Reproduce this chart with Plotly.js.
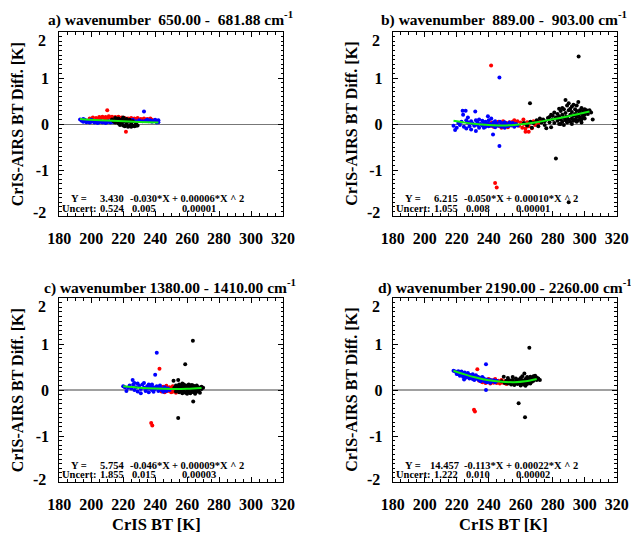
<!DOCTYPE html>
<html>
<head>
<meta charset="utf-8">
<script src="https://cdn.plot.ly/plotly-3.0.1.min.js"></script>
<style>html,body{margin:0;padding:0;background:#fff;}#chart{width:631px;height:536px;}</style>
</head>
<body>
<div id="chart"></div>
<script>
// ---------- data ----------
var panelTitles = [
  "a) wavenumber  650.00 -  681.88 cm<sup>-1</sup>",
  "b) wavenumber  889.00 -  903.00 cm<sup>-1</sup>",
  "c) wavenumber 1380.00 - 1410.00 cm<sup>-1</sup>",
  "d) wavenumber 2190.00 - 2260.00 cm<sup>-1</sup>"
];
var xTickVals = [180,200,220,240,260,280,300,320];
var yTickVals = [-2,-1,0,1,2];
var yTickText = ["","-1","0","1",""];
var yEndLabels = ["-2","2"];

var fitCoef = [
  ["3.430","-0.030*X","+ 0.00006*X ^ 2"],
  ["6.215","-0.050*X","+ 0.00010*X ^ 2"],
  ["5.754","-0.046*X","+ 0.00009*X ^ 2"],
  ["14.457","-0.113*X","+ 0.00022*X ^ 2"]
];
var fitUncert = [
  ["0.524","0.005","0.00001"],
  ["1.055","0.008","0.00001"],
  ["1.855","0.015","0.00003"],
  ["1.222","0.010","0.00002"]
];

// panel a
var aRed = [[199,0.12],[201,0.14],[203,0.13],[204,0.11],[205,0.15],[206,0.12],[207,0.16],[208,0.13],[209,0.15],[210,0.30],[210,0.12],[211,0.17],[212,0.14],[213,0.16],[214,0.12],[215,0.15],[216,0.13],[217,0.16],[218,0.12],[219,0.14],[220,0.11],[221,0.13],[221.7,-0.17],[222,0.10],[223,0.12],[224,0.10],[225,0.13],[226,0.09],[227,0.12],[228,0.10],[229,0.13],[230,0.09],[231,0.11],[232,0.10],[233,0.12],[234,0.09],[235,0.11],[236,0.10],[237,0.12],[238,0.09],[205,0.10],[209,0.11],[213,0.10]];
var aBlue = [[193,0.10],[194,0.07],[195,0.05],[196,0.09],[197,0.04],[198,0.06],[199,0.03],[200,0.05],[201,0.07],[202,0.03],[203,0.05],[204,0.02],[205,0.04],[206,0.06],[207,0.03],[208,0.05],[209,0.02],[210,0.04],[211,0.06],[212,0.03],[213,0.07],[214,0.04],[215,0.06],[216,0.08],[217,0.05],[218,0.07],[220,0.05],[222,0.08],[224,0.06],[226,0.09],[228,0.06],[230,0.08],[232,0.06],[233,0.27],[234,0.07],[235,0.09],[236,0.06],[237,0.08],[238,0.05],[239,0.07],[240,0.09],[241,0.03],[241,0.06],[242,0.04],[242,0.08],[195,0.11],[200,0.09]];
var aBlack = [[213,0.10],[214,0.06],[215,0.13],[215,0.03],[216,0.08],[217,0.12],[217,0.01],[218,0.06],[218,-0.02],[219,0.10],[219,0.03],[220,0.14],[220,-0.03],[221,0.07],[221,-0.05],[222,0.11],[222,0.0],[223,0.05],[223,-0.06],[224,0.09],[224,-0.04],[225,0.02],[225,-0.06],[226,0.06],[226,-0.03],[227,-0.05],[228,0.01],[228,-0.04],[229,-0.03],[220,0.05],[222,0.07]];
var aFitX = [193,199,210,220,230,242];
var aFitY = [0.11,0.095,0.075,0.058,0.045,0.035];

// panel b
var bRed = [[240,0.0],[241,-0.04],[241.5,1.27],[242,0.03],[243,-0.06],[244,0.02],[244,-1.28],[245,-1.38],[245,-0.03],[246,0.05],[247,-0.05],[248,0.01],[249,0.06],[250,-0.04],[251,0.02],[252,-0.07],[253,0.04],[254,-0.02],[255,0.05],[256,-0.05],[257,0.01],[258,0.06],[259,-0.04],[260,0.03],[261,-0.08],[261.7,0.1],[262,0.0],[263,-0.17],[264,0.04],[265,-0.17],[265,-0.05],[266,0.03],[267,-0.09],[268,0.06],[269,-0.02],[270,0.05],[271,0.0],[272,0.07],[263,-0.1],[256,0.08],[248,-0.08]];
var bBlue = [[218,-0.04],[219,-0.13],[220,-0.08],[221,0.02],[222,-0.02],[223,0.05],[223.7,0.29],[224,0.2],[224.5,-0.06],[225.6,0.29],[226,0.08],[226,-0.1],[227,0.03],[228,-0.05],[229,0.06],[229,-0.12],[230,0.01],[231,-0.04],[231.6,0.27],[232,0.08],[232,-0.15],[233,0.04],[234,-0.08],[234,0.1],[235,0.0],[236,-0.03],[236,0.07],[237,0.03],[238,-0.06],[238,0.05],[239,0.01],[239.5,0.17],[240,-0.05],[240,0.08],[241,0.0],[241.6,0.12],[242,-0.04],[242.7,-0.23],[243,0.03],[244,-0.07],[244,0.06],[245,0.01],[246,-0.04],[246.7,1.01],[246.7,-0.48],[247,0.05],[248,-0.06],[248,0.02],[249,-0.02],[250,0.04],[250,-0.08],[251,0.0],[252,-0.05],[253,0.03],[254,-0.03],[255,0.02],[256,-0.06],[257,0.0],[258,-0.03],[227,0.14],[233,-0.02],[237,-0.08]];
var bBlack = [[262,0.02],[264,-0.03],[265.8,0.45],[266,0.05],[267,-0.08],[268,0.02],[270,0.08],[271,-0.05],[272,0.12],[273,0.03],[274,0.1],[275,0.06],[276,-0.09],[277,0.13],[278,0.04],[279,-0.07],[280,0.1],[280,0.18],[281,0.02],[282,-0.75],[282,0.14],[283,0.07],[283,0.22],[284,0.0],[284,0.17],[285,0.1],[285,0.28],[286,0.05],[286,0.2],[287,0.13],[287,0.32],[288,0.08],[288,0.52],[288,0.24],[289,0.15],[289,0.03],[290,0.3],[290,0.1],[290,0.45],[290,-1.7],[291,0.2],[291,0.05],[292,0.26],[292,0.12],[292,0.38],[293,0.18],[293,0.07],[294,0.32],[294,0.22],[294,0.1],[295,0.28],[295,0.15],[295,0.4],[296,0.48],[296,0.2],[296,0.08],[296.2,1.47],[297,0.3],[297,0.14],[297,0.25],[298,0.22],[298,0.35],[298,0.1],[299,0.28],[299,0.17],[300,0.32],[300,0.2],[300,0.12],[301,0.26],[301,0.3],[302,0.22],[302,0.28],[303,0.3],[304,0.25],[305,0.1],[286,0.35],[289,0.4],[291,0.33],[293,0.42],[287,-0.02],[284,0.33],[281,0.25],[278,0.15],[275,-0.02],[279,0.2],[283,0.12],[285,0.0],[288,0.15],[292,0.0],[295,0.05],[298,0.03]];
var bFitX = [218,225,232,240,248,256,262,270,278,286,294,303];
var bFitY = [0.07,0.03,0.0,-0.02,-0.03,-0.02,0.0,0.04,0.09,0.14,0.2,0.27];

// panel c
var cRed = [[238,0.02],[237.5,-0.72],[238.2,-0.77],[242.7,0.46],[243,0.05],[244,-0.03],[245,0.07],[246,-0.05],[247,0.04],[247,0.09],[248,-0.02],[249,0.06],[250,-0.05],[250,0.02],[251,0.08],[251,-0.04],[252,0.0],[252,0.05],[253,-0.06],[253,0.03]];
var cBlue = [[220,0.08],[221,0.06],[222,-0.02],[223,0.05],[224,0.1],[225,0.03],[225.9,0.22],[226.3,0.12],[227,0.0],[227,0.15],[228,0.06],[229,-0.03],[230,0.09],[231,0.02],[231,-0.07],[232,0.12],[233,0.05],[233,0.15],[234,-0.02],[235,0.08],[235,0.03],[236,-0.05],[237,0.1],[237,0.04],[238,0.0],[238,0.12],[239,0.06],[239,-0.04],[240,0.33],[240,0.02],[241,0.81],[241,0.08],[242,-0.02],[242,0.05],[243,0.1],[244,0.0],[244,0.04],[245,-0.04],[246,0.06],[246,0.01],[247,-0.02],[248,0.03],[249,0.0],[229,0.14],[236,0.12]];
var cBlack = [[251.5,0.2],[252,0.05],[253,0.1],[253,-0.03],[254,0.08],[254,0.0],[254.4,0.22],[254.4,-0.61],[255,0.12],[255,0.04],[255,-0.05],[256,0.09],[256,-0.02],[256,0.06],[257,0.11],[257,0.02],[257,-0.07],[258,0.07],[258,-0.03],[258,0.12],[258.8,0.56],[259,0.04],[259,0.09],[259,-0.06],[260,0.1],[260,0.0],[260,0.06],[261,-0.04],[261,0.08],[261,0.12],[262,0.03],[262,-0.07],[262,0.1],[263,0.06],[263,-0.02],[263,0.11],[263.6,1.07],[263.8,-0.25],[264,0.04],[264,-0.05],[264,0.09],[265,0.07],[265,0.0],[265,-0.08],[266,0.1],[266,0.03],[266,-0.04],[267,0.06],[267,-0.01],[268,0.04],[268,-0.06],[269,0.02],[269,0.07],[270,0.05],[257,0.14],[260,-0.08]];
var cFitX = [220,230,240,250,260,269];
var cFitY = [0.08,0.05,0.03,0.02,0.025,0.045];

// panel d
var dRed = [[230.8,-0.43],[231.4,-0.47],[232.9,0.45],[234,0.2],[236,0.17],[237,0.22],[238,0.15],[239,0.2],[240,0.24],[241,0.14],[242,0.21],[243,0.16],[244,0.24],[245,0.15],[246,0.2],[247,0.14],[248,0.22],[249,0.16],[250,0.19],[251,0.13],[252,0.2],[253,0.15],[254,0.18],[255,0.14]];
var dBlue = [[218,0.42],[219,0.4],[220,0.38],[220,0.35],[221,0.41],[221,0.34],[222,0.37],[222,0.31],[223,0.4],[223,0.33],[224,0.36],[224,0.29],[224.6,0.23],[225,0.38],[225,0.31],[226,0.34],[226,0.27],[227,0.37],[227,0.3],[228,0.33],[228,0.25],[229,0.31],[229,0.28],[230,0.34],[230,0.24],[231,0.29],[231,0.22],[232,0.32],[232,0.26],[233,0.24],[233,0.29],[234,0.21],[234,0.27],[235,0.25],[235,0.19],[236,0.23],[236,0.28],[237,0.2],[237,0.25],[238,0.18],[238.3,0.56],[238.3,0.0],[239,0.23],[239,0.17],[240,0.2],[241,0.22],[241,0.16],[242,0.19],[243,0.21],[244,0.17],[245,0.2]];
var dBlack = [[248,0.19],[249.4,0.29],[250,0.15],[251,0.2],[252,0.14],[253,0.21],[254,0.12],[254,0.18],[255,0.22],[256,0.15],[256,0.11],[257,0.19],[257,0.25],[258,0.13],[258,0.2],[258.7,-0.29],[259,0.16],[259,0.23],[260,0.1],[260,0.18],[260,0.26],[261,0.14],[261,0.21],[262,0.12],[262,0.19],[262.3,0.36],[262.7,-0.59],[263,0.16],[263,0.24],[263,0.09],[264,0.2],[264,0.28],[264,0.13],[265,0.17],[265,0.25],[265.4,0.92],[266,0.21],[266,0.29],[266,0.14],[267,0.23],[267,0.18],[268,0.26],[268,0.3],[268,0.2],[269,0.24],[269,0.31],[270,0.22],[270,0.27],[271,0.25],[272,0.22],[252,0.26],[255,0.28],[261,0.3]];
var dFitX = [218,225,232,240,248,256,263,270];
var dFitY = [0.42,0.34,0.27,0.21,0.18,0.17,0.19,0.24];

// ---------- build ----------
var W = 631, H = 536;
var FONT = "Liberation Serif";
var panels = [
  {red:aRed, blue:aBlue, black:aBlack, fx:aFitX, fy:aFitY, left:59.3, right:283, top:32, bottom:216, zc:'#777777', zw:1},
  {red:bRed, blue:bBlue, black:bBlack, fx:bFitX, fy:bFitY, left:392.7, right:616.7, top:32, bottom:216, zc:'#777777', zw:1},
  {red:cRed, blue:cBlue, black:cBlack, fx:cFitX, fy:cFitY, left:59.3, right:283, top:298, bottom:482, zc:'#a0a0a0', zw:1.5},
  {red:dRed, blue:dBlue, black:dBlack, fx:dFitX, fy:dFitY, left:392.7, right:616.7, top:298, bottom:482, zc:'#a0a0a0', zw:1.5}
];
var titleCenters = [[170,19],[504,19],[170,286],[505,286]];

function px(x){return x/W;}
function py(y){return 1 - y/H;}

var traces = [];
var layout = {
  width: W, height: H,
  margin: {l:0, r:0, t:0, b:0},
  paper_bgcolor: '#ffffff', plot_bgcolor: '#ffffff',
  showlegend: false,
  annotations: [],
  font: {family: FONT, color: '#000'}
};

function scat(pts, color, xa, ya){
  return {type:'scatter', mode:'markers', x: pts.map(function(p){return p[0];}), y: pts.map(function(p){return p[1];}),
    xaxis: xa, yaxis: ya, marker:{color:color, size:4, line:{width:0}}, hoverinfo:'skip'};
}
function ann(text, x, y, size, xanchor, extra){
  var a = {text:'<b>'+text+'</b>', x:px(x), y:py(y), xref:'paper', yref:'paper', showarrow:false,
    xanchor:xanchor||'center', yanchor:'middle', font:{family:FONT, size:size, color:'#000'}};
  if (extra) for (var k in extra) a[k]=extra[k];
  layout.annotations.push(a);
}

panels.forEach(function(p, i){
  var n = i+1;
  var xa = 'x'+(n===1?'':n), ya = 'y'+(n===1?'':n);
  var xk = 'xaxis'+(n===1?'':n), yk = 'yaxis'+(n===1?'':n);
  traces.push(scat(p.red, '#ff0000', xa, ya));
  traces.push(scat(p.blue, '#0000ff', xa, ya));
  traces.push(scat(p.black, '#000000', xa, ya));
  traces.push({type:'scatter', mode:'lines', x:p.fx, y:p.fy, xaxis:xa, yaxis:ya,
    line:{color:'#10ee10', width:2, shape:'spline'}, hoverinfo:'skip'});
  layout[xk] = {domain:[px(p.left), px(p.right)], anchor:ya, range:[180,320],
    tickmode:'array', tickvals:xTickVals, ticks:'inside', ticklen:5, tickwidth:1, tickcolor:'#000',
    mirror:'allticks', showline:true, linecolor:'#000', linewidth:1, showgrid:false, zeroline:false,
    minor:{dtick:5, tick0:180, ticks:'inside', ticklen:3, tickcolor:'#000', showgrid:false},
    tickfont:{family:FONT, size:16, color:'#000', weight:'bold'}, ticklabelstandoff:8, fixedrange:true};
  layout[yk] = {domain:[py(p.bottom), py(p.top)], anchor:xa, range:[-2,2],
    tickmode:'array', tickvals:yTickVals, ticktext:yTickText, ticks:'inside', ticklen:5, tickwidth:1, tickcolor:'#000',
    mirror:'allticks', showline:true, linecolor:'#000', linewidth:1, showgrid:false,
    zeroline:true, zerolinecolor:p.zc, zerolinewidth:p.zw,
    minor:{dtick:0.1, tick0:0, ticks:'inside', ticklen:2.5, tickcolor:'#000', showgrid:false},
    tickfont:{family:FONT, size:16, color:'#000', weight:'bold'}, ticklabelstandoff:6, fixedrange:true};

  // end labels of the y axis (drawn slightly inward, as in the original)
  ann(yEndLabels[1], p.left - 11, p.top + 8, 16, 'right');
  ann(yEndLabels[0], p.left - 11, p.bottom - 3, 16, 'right');
  // panel title
  ann(panelTitles[i], titleCenters[i][0], titleCenters[i][1], 15.5, 'center');
  // y title
  ann('CrIS-AIRS BT Diff. [K]', p.left - 42, (p.top+p.bottom)/2, 16, 'center', {textangle:-90});
  // x title on bottom row
  if (i >= 2) ann('CrIS BT [K]', i===2 ? 156 : 504, 524, 16.5, 'center');
  // fit text
  var y1 = p.top + 167, y2 = p.top + 176.5;
  var fs = 10.5;
  ann('Y =', p.left + 10, y1, fs, 'left');
  ann(fitCoef[i][0], p.left + (fitCoef[i][0].length > 5 ? 35 : 39), y1, fs, 'left');
  ann(fitCoef[i][1], p.left + 69, y1, fs, 'left');
  ann(fitCoef[i][2], p.left + 111, y1, fs, 'left');
  ann('Uncert:', p.left + 1, y2, fs, 'left');
  ann(fitUncert[i][0], p.left + 39, y2, fs, 'left');
  ann(fitUncert[i][1], p.left + 71, y2, fs, 'left');
  ann(fitUncert[i][2], p.left + 121, y2, fs, 'left');
});

Plotly.newPlot('chart', traces, layout, {staticPlot:true, displayModeBar:false});
</script>
</body>
</html>
